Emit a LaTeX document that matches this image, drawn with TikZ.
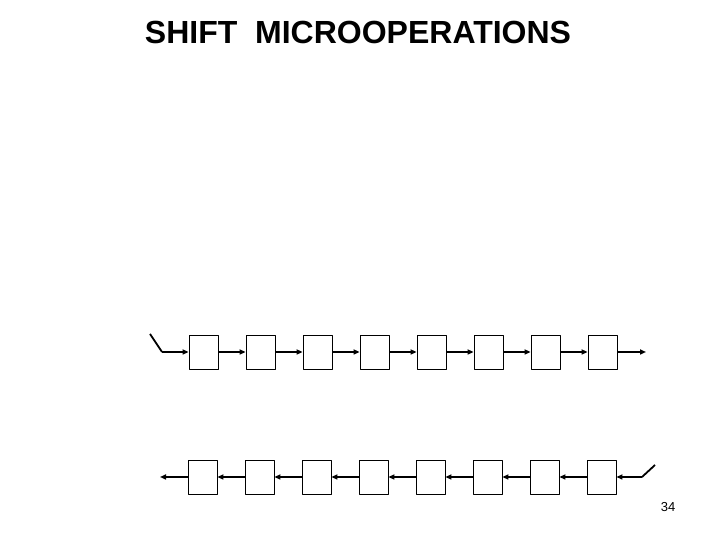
\documentclass[tikz,border=0pt]{standalone}
\usepackage{fontspec}
\setmainfont{Liberation Sans}
\usetikzlibrary{arrows.meta}
\begin{document}
\begin{tikzpicture}[x=1pt, y=1pt, >={Triangle[length=6pt,width=5pt]}, line join=round,
		cell/.style={draw, line width=0.8pt, minimum width=29pt, minimum height=34pt, inner sep=0pt},
		wire/.style={line width=1.8pt}]
			\useasboundingbox (0,0) rectangle (720,540);
			\node[font=\bfseries\fontsize{32}{36}\selectfont] (title) at (358,508) {SHIFT\ \ MICROOPERATIONS};
			% upper register: shift right
			\foreach \i in {1,...,8}{
				\node[cell] (r\i) at ({203.5+57*(\i-1)},188) {};
			}
			\coordinate (ra) at (150,206);
			\coordinate (rb) at (162,188);
			\coordinate (rout) at (646,188);
			\draw[wire] (ra)--(rb);
			\draw[wire,->] (rb)--(r1.west);
			\foreach \i [count=\j from 2] in {1,...,7}{
				\draw[wire,->] (r\i.east)--(r\j.west);
			}
			\draw[wire,->] (r8.east)--(rout);
			% lower register: shift left
			\foreach \i in {1,...,8}{
				\node[cell] (b\i) at ({202.5+57*(\i-1)},63) {};
			}
			\coordinate (ba) at (655,75);
			\coordinate (bb) at (642,63);
			\coordinate (bout) at (160,63);
			\draw[wire] (ba)--(bb);
			\draw[wire,->] (bb)--(b8.east);
			\foreach \i [count=\j from 2] in {1,...,7}{
				\draw[wire,->] (b\j.west)--(b\i.east);
			}
			\draw[wire,->] (b1.west)--(bout);
			\node[font=\fontsize{13}{15}\selectfont] (page) at (668,33) {34};
	\end{tikzpicture}
\end{document}
